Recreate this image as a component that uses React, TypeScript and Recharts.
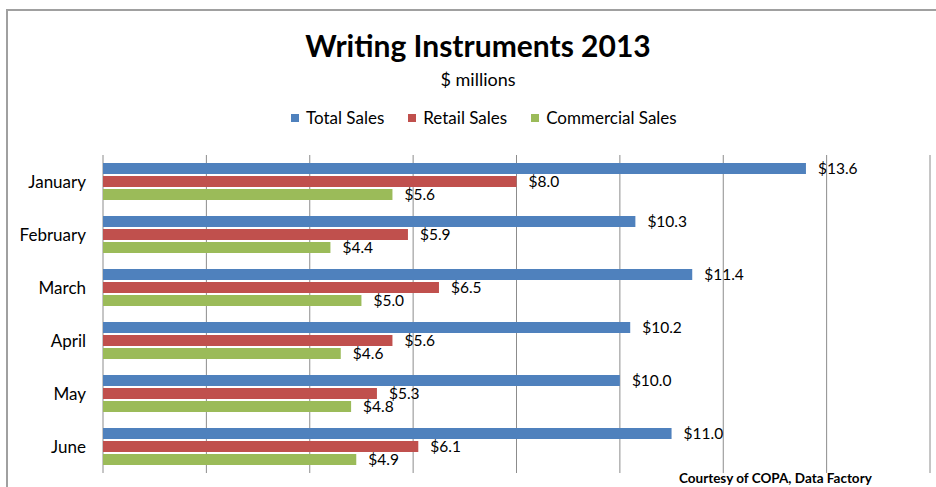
import React from "react";
import { BarChart, Bar, XAxis, YAxis, CartesianGrid, LabelList } from "recharts";

const months = ["January", "February", "March", "April", "May", "June"];
const totalSales = [13.6, 10.3, 11.4, 10.2, 10.0, 11.0];
const retailSales = [8.0, 5.9, 6.5, 5.6, 5.3, 6.1];
const commercialSales = [5.6, 4.4, 5.0, 4.6, 4.8, 4.9];
const xTicks = [0, 2, 4, 6, 8, 10, 12, 14, 16];

const series = [
  { key: "total", name: "Total Sales", color: "#4F81BD" },
  { key: "retail", name: "Retail Sales", color: "#C0504D" },
  { key: "commercial", name: "Commercial Sales", color: "#9BBB59" },
];

const data = months.map((month, i) => ({
  month,
  total: totalSales[i],
  retail: retailSales[i],
  commercial: commercialSales[i],
}));

const FONT = "Lato, 'Open Sans', sans-serif";
const money = (v: number) => `$${Number(v).toFixed(1)}`;

export default function App() {
  return (
    <div
      style={{
        position: "absolute",
        left: 0,
        top: 0,
        width: 936,
        height: 487,
        background: "#fff",
        overflow: "hidden",
        fontFamily: FONT,
      }}
    >
      {/* chart frame, cropped on right and bottom */}
      <div
        style={{
          position: "absolute",
          left: 6,
          top: 9,
          width: 940,
          height: 490,
          borderTop: "2px solid #a0a0a0",
          borderLeft: "2px solid #a0a0a0",
        }}
      />
      <div
        style={{
          position: "absolute",
          top: 26,
          width: 956,
          left: 0,
          textAlign: "center",
          fontSize: 30,
          fontWeight: 700,
          color: "#000",
          lineHeight: "38px",
        }}
      >
        Writing Instruments 2013
      </div>
      <div
        style={{
          position: "absolute",
          top: 67,
          left: 0,
          width: 956,
          textAlign: "center",
          fontSize: 18,
          color: "#000",
          lineHeight: "24px",
        }}
      >
        $ millions
      </div>
      <div
        style={{
          position: "absolute",
          top: 106,
          left: 291,
          display: "flex",
          alignItems: "center",
          fontSize: 17,
          lineHeight: "24px",
          color: "#000",
        }}
      >
        {series.map((s, i) => (
          <div
            key={s.key}
            style={{ display: "flex", alignItems: "center", marginRight: i < series.length - 1 ? 24 : 0 }}
          >
            <span style={{ width: 8, height: 8, background: s.color, marginRight: 7, display: "inline-block" }} />
            <span>{s.name}</span>
          </div>
        ))}
      </div>

      <div style={{ position: "absolute", left: 0, top: 0 }}>
        <BarChart
          width={936}
          height={487}
          data={data}
          layout="vertical"
          margin={{ top: 155, right: 6, bottom: 14, left: 0 }}
          barSize={11}
          barGap={2}
        >
          <CartesianGrid horizontal={false} stroke="#8c8c8c" strokeWidth={1} />
          <XAxis type="number" domain={[0, 16]} ticks={xTicks} hide />
          <YAxis
            type="category"
            dataKey="month"
            width={103}
            axisLine={false}
            tickLine={false}
            tickMargin={11}
            tick={{ fontSize: 17, fill: "#000", fontFamily: FONT }}
          />
          {series.map((s) => (
            <Bar key={s.key} dataKey={s.key} name={s.name} fill={s.color} isAnimationActive={false}>
              <LabelList
                dataKey={s.key}
                position="right"
                offset={12}
                formatter={money}
                style={{ fontSize: 15.5, fill: "#000", fontFamily: FONT }}
              />
            </Bar>
          ))}
        </BarChart>
      </div>

      <div
        style={{
          position: "absolute",
          left: 679,
          top: 469,
          fontSize: 13.5,
          fontWeight: 700,
          color: "#000",
          lineHeight: "18px",
          whiteSpace: "nowrap",
        }}
      >
        Courtesy of COPA, Data Factory
      </div>
    </div>
  );
}
